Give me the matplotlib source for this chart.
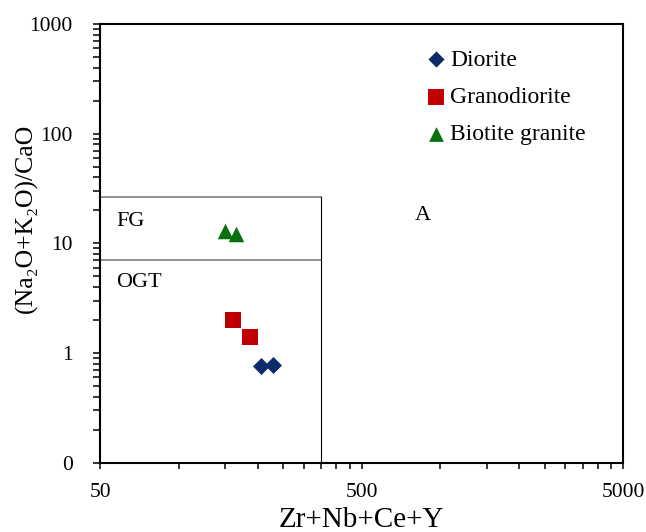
import matplotlib
matplotlib.use("Agg")
import matplotlib.pyplot as plt
from matplotlib.ticker import FixedLocator, NullFormatter, FixedFormatter

plt.rcParams['font.family'] = ['Liberation Serif', 'DejaVu Serif']

# Data
diorite_x = [206, 230]
diorite_y = [0.76, 0.78]
granodiorite_x = [161, 187]
granodiorite_y = [2.0, 1.40]
biotite_x = [150, 166]
biotite_y = [13.0, 12.2]

# Field boundaries
boundary_x = 350
fg_ogt_y = 7.0
fg_top_y = 26.5

x_major = [50, 500, 5000]
x_major_labels = ['50', '500', '5000']
y_major = [0.1, 1, 10, 100, 1000]
y_major_labels = ['0', '1', '10', '100', '1000']

fig = plt.figure(figsize=(6.46, 5.32), dpi=100)
ax = fig.add_axes([0.1548, 0.1306, 0.8102, 0.8242])
ax.set_xscale('log')
ax.set_yscale('log')
ax.set_xlim(50, 5000)
ax.set_ylim(0.1, 1000)

# field lines
ax.plot([50, boundary_x], [fg_top_y, fg_top_y], color='#7f7f7f', lw=1.2, zorder=2)
ax.plot([50, boundary_x], [fg_ogt_y, fg_ogt_y], color='#7f7f7f', lw=1.2, zorder=2)
ax.plot([boundary_x, boundary_x], [0.1, fg_top_y], color='black', lw=0.8, zorder=2)

ax.text(57.5, 15.7, 'FG', fontsize=16, va='center', ha='left')
ax.text(57.5, 4.36, 'OGT', fontsize=16, va='center', ha='left')
ax.text(857, 17.8, 'A', fontsize=16, va='center', ha='center')

ax.scatter(diorite_x, diorite_y, marker='D', s=75, color='#0d2a6b', label='Diorite', zorder=3, linewidths=0)
ax.scatter(granodiorite_x, granodiorite_y, marker='s', s=132, color='#c00000', label='Granodiorite', zorder=3, linewidths=0)
ax.scatter(biotite_x, biotite_y, marker='^', s=125, color='#0a700f', label='Biotite granite', zorder=3, linewidths=0)

ax.legend(loc='upper left', bbox_to_anchor=(0.62, 0.943), frameon=False, fontsize=17,
          handletextpad=0.1, labelspacing=0.67, borderaxespad=0, borderpad=0,
          scatterpoints=1, markerscale=0.95, handlelength=1.0)

ax.xaxis.set_major_locator(FixedLocator(x_major))
ax.xaxis.set_major_formatter(FixedFormatter(x_major_labels))
x_minor = [50 * k for k in range(2, 10)] + [500 * k for k in range(2, 10)]
ax.xaxis.set_minor_locator(FixedLocator(x_minor))
ax.xaxis.set_minor_formatter(NullFormatter())

ax.yaxis.set_major_locator(FixedLocator(y_major))
ax.yaxis.set_major_formatter(FixedFormatter(y_major_labels))
y_minor = [d * k for d in [0.1, 1, 10, 100] for k in range(2, 10)]
ax.yaxis.set_minor_locator(FixedLocator(y_minor))
ax.yaxis.set_minor_formatter(NullFormatter())

ax.tick_params(which='both', direction='out', width=1.1, labelsize=15.5, color='black')
ax.tick_params(axis='x', which='both', length=4, pad=11)
ax.tick_params(axis='y', which='both', length=5, pad=14.5)

for s in ax.spines.values():
    s.set_linewidth(1.5)
    s.set_color('black')

ax.set_xlabel('Zr+Nb+Ce+Y', fontsize=21)
ax.xaxis.label.set_verticalalignment('baseline')
ax.xaxis.set_label_coords(0.5, -0.147)
ax.set_ylabel('(Na\u2082O+K\u2082O)/CaO', fontsize=18.5)
ax.yaxis.label.set_verticalalignment('center')
ax.yaxis.set_label_coords(-0.1414, 0.5576)

fig.savefig('out.png', dpi=100)
